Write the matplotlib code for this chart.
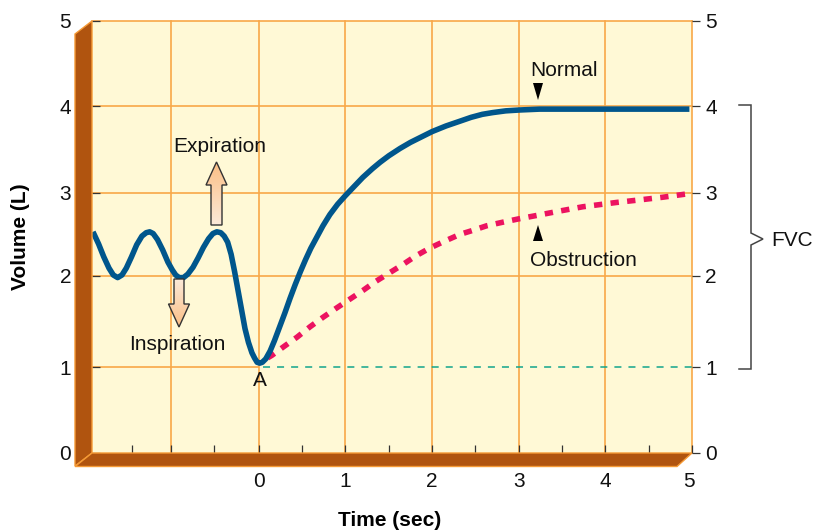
import numpy as np
import matplotlib
matplotlib.use("Agg")
import matplotlib.pyplot as plt
from matplotlib.patches import Polygon
from matplotlib.colors import LinearSegmentedColormap
from matplotlib.transforms import ScaledTranslation

plt.rcParams['font.family'] = ['Liberation Sans', 'DejaVu Sans']

# ---- data ----
normal_x = [-1.915,-1.85,-1.79,-1.73,-1.68,-1.63,-1.58,-1.53,-1.47,-1.41,-1.35,-1.30,-1.26,-1.22,-1.17,-1.11,-1.05,-1.00,-0.96,-0.92,-0.87,-0.82,-0.76,-0.70,-0.64,-0.58,-0.53,-0.485,-0.44,-0.40,-0.36,-0.32,-0.28,-0.24,-0.20,-0.16,-0.12,-0.08,-0.05,-0.02,0.01,0.04,0.08,0.13,0.18,0.24,0.30,0.36,0.42,0.48,0.54,0.60,0.67,0.74,0.82,0.91,1.0,1.1,1.2,1.31,1.4,1.5,1.63,1.75,1.88,2.0,2.16,2.32,2.45,2.58,2.7,2.85,3.01,3.24,3.6,4.0,4.5,4.97]
normal_y = [2.56,2.42,2.27,2.14,2.06,2.03,2.06,2.14,2.27,2.41,2.51,2.55,2.56,2.54,2.47,2.35,2.21,2.12,2.06,2.03,2.03,2.07,2.15,2.26,2.38,2.48,2.54,2.56,2.55,2.51,2.44,2.30,2.10,1.88,1.66,1.44,1.28,1.16,1.10,1.05,1.04,1.05,1.09,1.18,1.30,1.46,1.62,1.79,1.95,2.10,2.24,2.37,2.50,2.63,2.76,2.88,2.98,3.085,3.19,3.29,3.365,3.44,3.525,3.595,3.66,3.72,3.785,3.84,3.885,3.92,3.94,3.96,3.97,3.98,3.98,3.98,3.98,3.98]
obstr_x = [0.10,0.15,0.30,0.44,0.59,0.74,0.90,1.05,1.20,1.34,1.50,1.66,1.81,1.97,2.14,2.32,2.48,2.63,2.81,3.00,3.21,3.47,3.74,4.13,4.40,4.66,4.95]
obstr_y = [1.10,1.13,1.24,1.34,1.46,1.57,1.68,1.78,1.88,1.98,2.08,2.18,2.28,2.37,2.45,2.53,2.58,2.63,2.67,2.71,2.75,2.80,2.85,2.90,2.93,2.96,3.00]
baseline_x = [0.05, 5.0]
baseline_y = [1.0, 1.0]
x_ticks = [-1.47,-1.015,-0.52,0,0.5,1,1.5,2,2.5,3,3.5,4,4.5,5]
x_labels = ['','','','0','','1','','2','','3','','4','','5']
y_ticks = [0,0.995,2.05,3.01,4.016,5]
y_labels = ['0','1','2','3','4','5']
grid_x = [-1.015,0,1,2,3,4,5]
grid_y = [2.05,3.01,4.016,5]
grid_one_y = 0.995

W, H = 813, 532
BG = '#fff9d6'; GRID = '#f8a848'; WALL = '#b0540f'
FS = 15

fig = plt.figure(figsize=(W/100, H/100), dpi=100)
ax = fig.add_axes([92/W, 1-453/H, 600/W, 432/H], zorder=2)
ax.set_xlim(-1.926, 5)
ax.set_ylim(0, 5)
ax.set_facecolor(BG)
for s in ax.spines.values():
    s.set_visible(False)

for v in grid_x:
    ax.axvline(v, color=GRID, lw=1.2, zorder=1, clip_on=False)
for v in grid_y:
    ax.axhline(v, color=GRID, lw=1.2, zorder=1, clip_on=False)
ax.hlines(grid_one_y, -1.926, 0, color=GRID, lw=1.2, zorder=1)

ax.plot(baseline_x, baseline_y, color='#12a58c', lw=1.1, dashes=(4.6, 4.6), zorder=3)
ax.plot(obstr_x, obstr_y, color='#ec1360', lw=4.0, dashes=(1.5, 1.5), zorder=3,
        dash_capstyle='butt')
ax.plot(normal_x, normal_y, color='#00568c', lw=4.0, zorder=4,
        solid_capstyle='butt', solid_joinstyle='round')

ax.set_xticks(x_ticks, x_labels, fontsize=FS)
ax.tick_params(axis='x', direction='in', length=5.5, width=0.9, color='#333333',
               pad=14, labelcolor='#111111')
ax.set_yticks(y_ticks, y_labels, fontsize=FS)
ax.tick_params(axis='y', direction='in', length=5.5, width=0.9, color='#333333',
               pad=15, labelcolor='#111111')
for t in (ax.yaxis.get_major_ticks()[0], ax.yaxis.get_major_ticks()[-1]):
    t.tick1line.set_visible(False)
last = ax.get_xticklabels()[-1]
last.set_transform(last.get_transform() + ScaledTranslation(-3/100, 0, fig.dpi_scale_trans))

axr = ax.twinx()
axr.set_ylim(0, 5)
axr.patch.set_visible(False)
for s in axr.spines.values():
    s.set_visible(False)
axr.set_yticks(y_ticks, y_labels, fontsize=FS)
axr.tick_params(axis='y', direction='out', length=5.8, width=0.9, color='#333333',
                pad=3.6, labelcolor='#111111')

ax.set_xlabel('Time (sec)', fontsize=15, fontweight='bold', va='center')
ax.xaxis.set_label_coords(390/W, 1-521/H, transform=fig.transFigure)
ax.set_ylabel('Volume (L)', fontsize=15, fontweight='bold', va='center')
ax.yaxis.set_label_coords(21/W, 1-237/H, transform=fig.transFigure)

# pixel overlay for decoration and annotations
ov = fig.add_axes([0, 0, 1, 1], zorder=5)
ov.set_xlim(0, W); ov.set_ylim(H, 0)
ov.axis('off')

ov.add_patch(Polygon([(75,34),(92,21),(92,453),(75,466)], fc=WALL, ec='#f59a35', lw=1.0, joinstyle='miter'))
ov.add_patch(Polygon([(92,453),(692,453),(677,466.5),(75,466.5)], fc=WALL, ec='#f59a35', lw=1.0, joinstyle='miter'))

cmap_up = LinearSegmentedColormap.from_list('u', ['#fbbf85', '#fbe9d8'])
def grad_arrow(pts, top_dark):
    poly = Polygon(pts, fc='none', ec='#333333', lw=1.0, zorder=7, joinstyle='miter')
    ov.add_patch(poly)
    xs = [p[0] for p in pts]; ys = [p[1] for p in pts]
    g = np.linspace(0, 1, 64).reshape(-1, 1)
    if not top_dark:
        g = g[::-1]
    im = ov.imshow(g, cmap=cmap_up, extent=(min(xs), max(xs), max(ys), min(ys)),
                   aspect='auto', zorder=6)
    im.set_clip_path(poly)
grad_arrow([(216.5,162),(227,185),(222,185),(222,225),(211,225),(211,185),(206,185)], True)
grad_arrow([(179,327),(168.5,304),(174,304),(174,279),(184,279),(184,304),(189.5,304)], False)
ov.set_xlim(0, W); ov.set_ylim(H, 0)

ov.add_patch(Polygon([(533,83),(543,83),(538,100)], fc='black', ec='none', zorder=7))
ov.add_patch(Polygon([(533,241),(543,241),(538,225)], fc='black', ec='none', zorder=7))

BR = '#444444'
ov.plot([739,751,751,763,751,751,739], [105,105,233,239,245,369,369], color=BR, lw=1.1,
        solid_joinstyle='miter', zorder=7)

def label(x, y, s, ha='left'):
    ov.text(x, y, s, fontsize=FS, ha=ha, va='center', color='#111111', zorder=8)
label(173, 146, 'Expiration')
label(129.5, 344, 'Inspiration')
label(530, 70, 'Normal')
label(530, 260, 'Obstruction')
label(771, 241, 'FVC')
label(260, 380, 'A', ha='center')

fig.savefig('out.png', dpi=100)
